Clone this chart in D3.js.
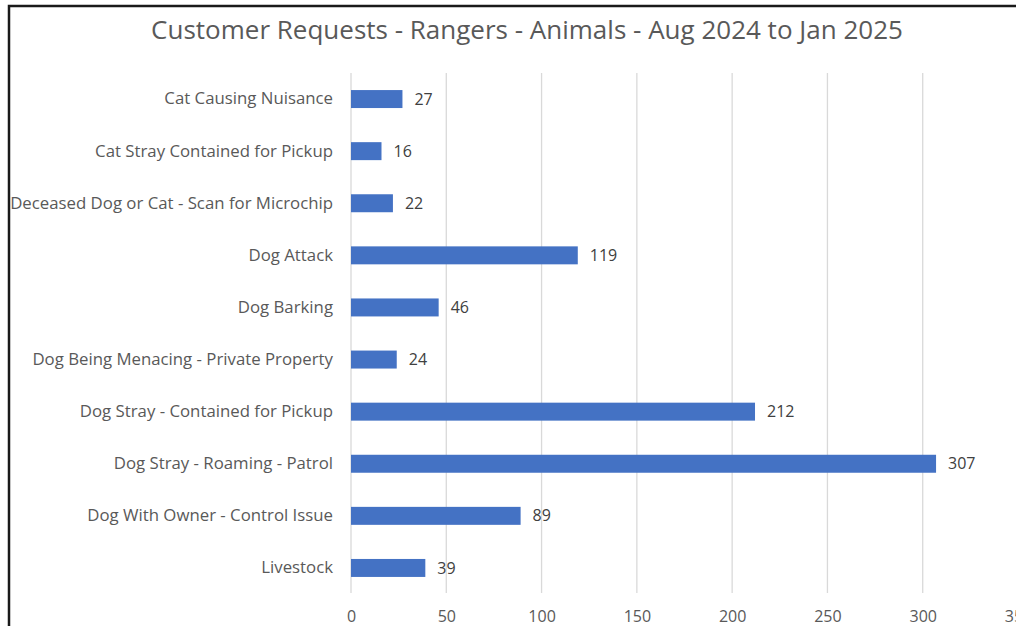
<!DOCTYPE html>
<html>
<head>
<meta charset="utf-8">
<script src="https://cdn.jsdelivr.net/npm/d3@7"></script>
<style>
  body { margin: 0; background: #fff; }
  text { font-family: "Open Sans", sans-serif; }
</style>
</head>
<body>
<div id="chart"></div>
<script>
// data
var categories = [
  "Cat Causing Nuisance",
  "Cat Stray Contained for Pickup",
  "Deceased Dog or Cat - Scan for Microchip",
  "Dog Attack",
  "Dog Barking",
  "Dog Being Menacing - Private Property",
  "Dog Stray - Contained for Pickup",
  "Dog Stray - Roaming - Patrol",
  "Dog With Owner - Control Issue",
  "Livestock"
];
var counts = [27, 16, 22, 119, 46, 24, 212, 307, 89, 39];
var xTicks = [0, 50, 100, 150, 200, 250, 300, 350];
var title = "Customer Requests - Rangers - Animals - Aug 2024 to Jan 2025";

var width = 1016,
    height = 626;
var margin = {top: 73, right: -2, bottom: 32, left: 351};

var svg = d3.select("#chart")
            .append("svg")
            .attr("width", width)
            .attr("height", height);

// chart border (cropped at right and bottom)
svg.append("rect")
   .attr("x", 9)
   .attr("y", 6)
   .attr("width", 1040)
   .attr("height", 660)
   .attr("fill", "none")
   .attr("stroke", "#1a1a1a")
   .attr("stroke-width", 2.5);

svg.append("text")
   .attr("x", 527)
   .attr("y", 39)
   .attr("text-anchor", "middle")
   .attr("fill", "#595959")
   .style("font-size", "26px")
   .text(title);

var xScale = d3.scaleLinear()
               .domain([0, 350])
               .range([margin.left, width - margin.right]);
var yScale = d3.scaleBand()
               .domain(categories)
               .range([margin.top, height - margin.bottom])
               .paddingInner(0.655)
               .paddingOuter(0.3275);

var g = svg.append("g");

// vertical gridlines
g.selectAll("line.grid")
 .data(xTicks)
 .enter()
 .append("line")
 .attr("class", "grid")
 .attr("x1", function(d) { return xScale(d); })
 .attr("x2", function(d) { return xScale(d); })
 .attr("y1", margin.top)
 .attr("y2", 593)
 .attr("stroke", "#d9d9d9")
 .attr("stroke-width", 1.3);

// x axis labels
var xAxis = d3.axisBottom(xScale)
              .tickValues(xTicks)
              .tickSize(0)
              .tickPadding(0);
var xg = svg.append("g")
            .attr("transform", "translate(0,611)")
            .call(xAxis);
xg.select(".domain").remove();
xg.selectAll("text")
  .attr("fill", "#595959")
  .style("font-size", "16px")
  .style("font-family", '"Open Sans", sans-serif');

// y axis labels
var yAxis = d3.axisLeft(yScale)
              .tickSize(0)
              .tickPadding(18);
var yg = svg.append("g")
            .attr("transform", "translate(" + margin.left + ",0)")
            .call(yAxis);
yg.select(".domain").remove();
yg.selectAll("text")
  .attr("fill", "#595959")
  .style("font-size", "16.8px")
  .style("font-family", '"Open Sans", sans-serif');

// bars
g.selectAll("rect.bar")
 .data(counts)
 .enter()
 .append("rect")
 .attr("class", "bar")
 .attr("x", xScale(0))
 .attr("y", function(d, i) { return yScale(categories[i]); })
 .attr("width", function(d) { return xScale(d) - xScale(0); })
 .attr("height", yScale.bandwidth())
 .attr("fill", "#4472c4");

// value labels
g.selectAll("text.value")
 .data(counts)
 .enter()
 .append("text")
 .attr("class", "value")
 .attr("x", function(d) { return xScale(d) + 12; })
 .attr("y", function(d, i) { return yScale(categories[i]) + yScale.bandwidth() / 2; })
 .attr("dy", "0.35em")
 .attr("fill", "#404040")
 .style("font-size", "16px")
 .text(function(d) { return d; });
</script>
</body>
</html>
